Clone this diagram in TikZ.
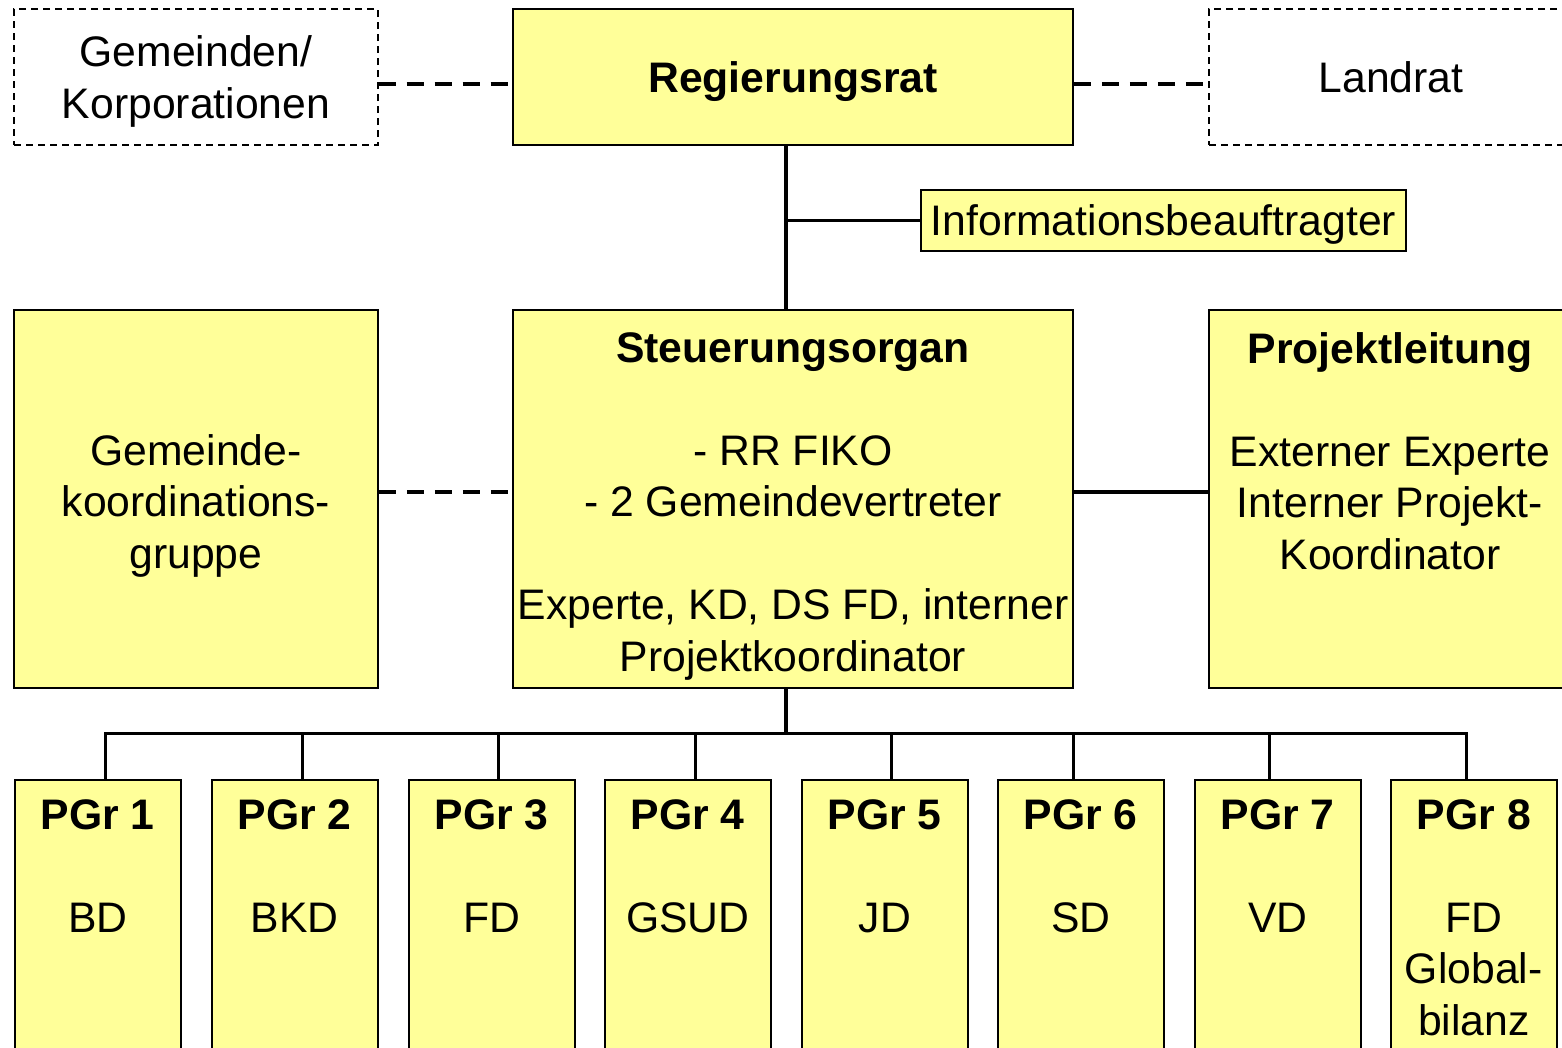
\documentclass[tikz,border=0pt]{standalone}
\usepackage{fontspec}
\setmainfont{Liberation Sans}
\usetikzlibrary{positioning}
\definecolor{boxyellow}{RGB}{255,255,153}
\tikzset{
  orgbox/.style={draw, line width=1.6pt, fill=boxyellow, inner sep=0pt, align=center, text depth=0pt},
  dashbox/.style={draw, line width=1.3pt, dash pattern=on 7pt off 5pt, inner sep=0pt, align=center, text depth=0pt},
  txt/.style={align=center, inner sep=0pt},
  link/.style={line width=3.3pt},
  dashlink/.style={line width=3.5pt, dash pattern=on 17pt off 11pt},
}
\begin{document}
\begin{tikzpicture}[x=1pt, y=-1pt, font=\fontsize{42.7}{51.5}\selectfont]
  \useasboundingbox (0,0) rectangle (1562,1047);
  \clip (0,0) rectangle (1562,1047);
  % top row
  \node[dashbox, minimum width=364pt, minimum height=136pt] (gem) at (196,77) {Gemeinden/\\Korporationen};
  \node[orgbox, minimum width=560pt, minimum height=136pt] (rr) at (793,77) {\textbf{Regierungsrat}};
  \node[dashbox, minimum width=364pt, minimum height=136pt] (land) at (1391,77) {Landrat};
  \node[orgbox, minimum width=485pt, minimum height=61pt] (info) at (1163.5,220.5) {Informationsbeauftragter};
  % middle row
  \node[orgbox, minimum width=364pt, minimum height=378pt] (gkg) at (196,499) {};
  \node[orgbox, minimum width=560pt, minimum height=378pt] (steu) at (793,499) {};
  \node[orgbox, minimum width=364pt, minimum height=378pt] (pl) at (1391,499) {};
  \node[txt, anchor=north] (gkgtext) at (196,434) {Gemeinde-\\koordinations-\\gruppe};
  \node[txt, anchor=north] (steutext) at (793,332) {\textbf{Steuerungsorgan}\\[51.5pt]
    - RR FIKO\\- 2 Gemeindevertreter\\[51.5pt]Experte, KD, DS FD, interner\\Projektkoordinator};
  \node[txt, anchor=north] (pltext) at (1390,332) {\textbf{Projektleitung}\\[51.5pt]
    Externer Experte\\Interner Projekt-\\Koordinator};
  % connectors
  \coordinate (spine) at ([xshift=-7pt]rr.south);
  \draw[dashlink] ([yshift=-7pt]gem.east) -- ([yshift=-7pt]rr.west);
  \draw[dashlink] ([yshift=-7pt]rr.east) -- ([yshift=-7pt]land.west);
  \draw[link] (spine) -- ([xshift=-7pt]steu.north);
  \draw[link] (info.west) -- (info.west -| spine);
  \draw[dashlink] ([yshift=7pt]gkg.east) -- ([yshift=7pt]steu.west);
  \draw[link] ([yshift=7pt]steu.east) -- ([yshift=7pt]pl.west);
  % project groups
  \coordinate (bus) at ([xshift=-7pt,yshift=-45pt]steu.south);
  \draw[link] ([xshift=-7pt]steu.south) -- (bus);
  \foreach \i/\lx/\dx/\sub in {1/14/8/BD, 2/211/8/BKD, 3/408/7/FD, 4/604/8/GSUD,
      5/801/7/JD, 6/997/-7/SD, 7/1194/-8/VD, 8/1390/-7/{FD\\Global-\\bilanz}} {
    \node[orgbox, anchor=north west, minimum width=166pt, minimum height=320pt] (pg\i) at (\lx,779) {};
    \node[txt, anchor=north] (pgtext\i) at ([yshift=-20pt]pg\i.north) {\textbf{PGr \i}\\[51.5pt]\sub};
    \draw[link] (bus) -| ([xshift=\dx pt]pg\i.north);
  }
\end{tikzpicture}
\end{document}
